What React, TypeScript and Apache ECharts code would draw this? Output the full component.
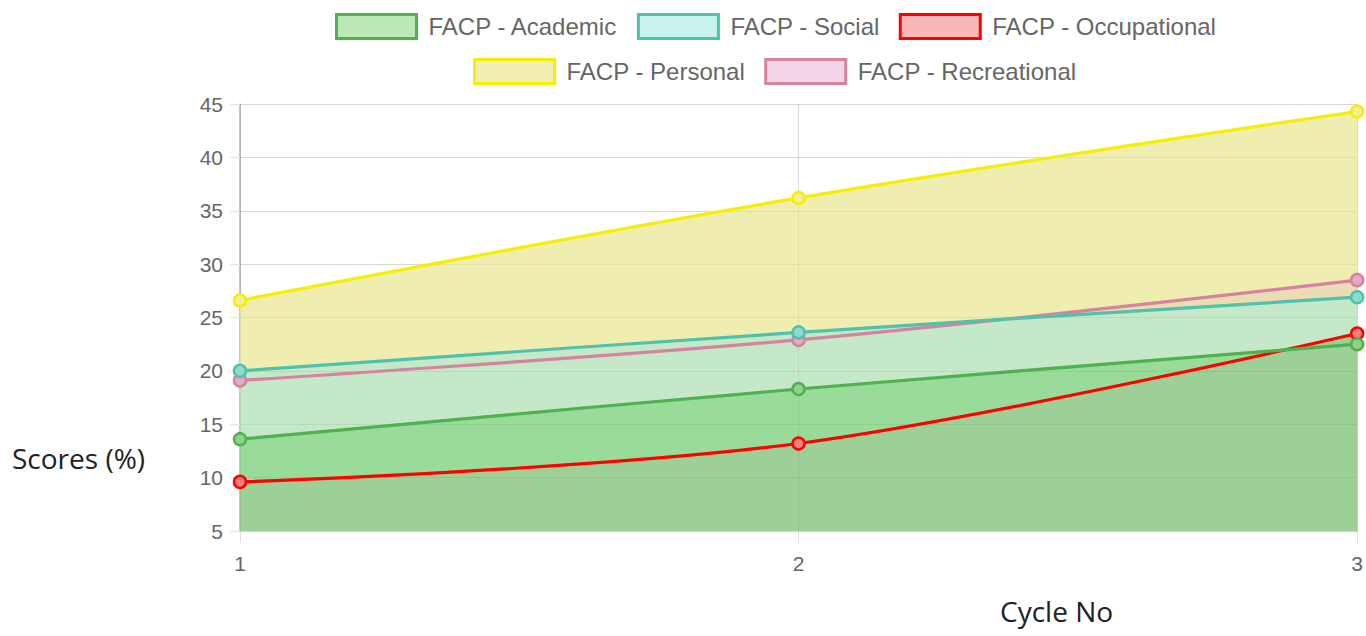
import React, { useEffect, useRef } from "react";
import * as echarts from "echarts";

const cycles = ["1", "2", "3"];
const academic = [13.6, 18.3, 22.5];
const social = [20.0, 23.6, 26.9];
const occupational = [9.6, 13.2, 23.5];
const personal = [26.6, 36.2, 44.3];
const recreational = [19.1, 22.9, 28.5];

const seriesDefs = [
  { name: "FACP - Academic", data: academic, line: "#4fb14f", area: "#99dc99", box: "#bde8b8", marker: "#8fd08a" },
  { name: "FACP - Social", data: social, line: "#4fc2ad", area: "#c4e8c8", box: "#c9f4ee", marker: "#8fdad0" },
  { name: "FACP - Occupational", data: occupational, line: "#ff0000", area: "#9cd096", box: "#f8b8b8", marker: "#f58080" },
  { name: "FACP - Personal", data: personal, line: "#f7ef00", area: "#efeeb0", box: "#f0eeb0", marker: "#f2ee9a" },
  { name: "FACP - Recreational", data: recreational, line: "#d4849f", area: "#ecdcb4", box: "#f4d4e8", marker: "#e6aac4" },
];

// area paint order (bottom to top)
const areaOrder = ["FACP - Personal", "FACP - Recreational", "FACP - Social", "FACP - Academic", "FACP - Occupational"];

const FONT = "Liberation Sans, Arial, sans-serif";

export default function App() {
  const ref = useRef<HTMLDivElement>(null);
  useEffect(() => {
    if (!ref.current) return;
    const chart = echarts.init(ref.current, undefined, { renderer: "svg" });
    const byName = (n: string) => seriesDefs.find((s) => s.name === n)!;
    const areaSeries = areaOrder.map((n) => {
      const s = byName(n);
      return {
        name: s.name,
        type: "line",
        data: s.data,
        smooth: 0.35,
        symbol: "none",
        lineStyle: { width: 0 },
        areaStyle: { color: s.area, opacity: 1, origin: "start" },
        z: 1,
        silent: true,
      };
    });
    const lineSeries = [...seriesDefs].reverse().map((s) => ({
      name: s.name,
      type: "line",
      data: s.data,
      smooth: 0.35,
      symbol: "circle",
      symbolSize: 12,
      showSymbol: true,
      lineStyle: { width: 3.2, color: s.line },
      itemStyle: { color: s.marker, borderColor: s.line, borderWidth: 2.5 },
      z: 5,
    }));
    const legendItem = (s: typeof seriesDefs[number]) => ({
      name: s.name,
      icon: "rect",
      itemStyle: { color: s.box, borderColor: s.line, borderWidth: 3 },
    });
    const legendCommon = {
      itemWidth: 80,
      itemHeight: 24,
      itemGap: 19,
      textStyle: { color: "#666", fontSize: 24, fontFamily: FONT, padding: [0, 0, 0, 7] },
      selectedMode: false,
    };
    chart.setOption({
      animation: false,
      backgroundColor: "#ffffff",
      legend: [
        { ...legendCommon, left: 330, top: 8, data: seriesDefs.slice(0, 3).map(legendItem) },
        { ...legendCommon, left: 468, top: 53, data: seriesDefs.slice(3).map(legendItem) },
      ],
      grid: { left: 240, right: 6, top: 104, bottom: 105 },
      xAxis: [
        {
          type: "category",
          data: cycles,
          boundaryGap: false,
          axisLine: { show: true, lineStyle: { color: "#dddddd", width: 1 } },
          axisTick: { show: true, length: 12, alignWithLabel: true, lineStyle: { color: "#dddddd" } },
          axisLabel: { color: "#666", fontSize: 21, fontFamily: FONT, margin: 22 },
          splitLine: { show: true, lineStyle: { color: "#e6e6e6", width: 1 } },
        },
        {
          type: "category",
          data: cycles,
          boundaryGap: false,
          position: "bottom",
          z: 3,
          axisLine: { show: false },
          axisTick: { show: false },
          axisLabel: { show: false },
          splitLine: { show: true, lineStyle: { color: "rgba(0,0,0,0.06)", width: 1 } },
        },
      ],
      yAxis: [
        {
          type: "value",
          min: 5,
          max: 45,
          interval: 5,
          axisLine: { show: true, lineStyle: { color: "#b5b5b5", width: 1.5 } },
          axisTick: { show: true, length: 10, lineStyle: { color: "#e6e6e6" } },
          axisLabel: { color: "#666", fontSize: 21, fontFamily: FONT, margin: 17 },
          splitLine: { show: true, lineStyle: { color: "#e6e6e6", width: 1 } },
        },
        {
          type: "value",
          min: 5,
          max: 45,
          interval: 5,
          z: 3,
          axisLine: { show: false },
          axisTick: { show: false },
          axisLabel: { show: false },
          splitLine: { show: true, lineStyle: { color: "rgba(0,0,0,0.06)", width: 1 } },
        },
      ],
      graphic: [
        { type: "text", left: 12, top: 444, style: { text: "Scores (%)", fill: "#222", font: "28px 'Open Sans', sans-serif" } },
        { type: "text", left: 1000, top: 597, style: { text: "Cycle No", fill: "#222", font: "28px 'Open Sans', sans-serif" } },
      ],
      series: [...areaSeries, ...lineSeries],
    });
    return () => chart.dispose();
  }, []);
  return <div ref={ref} style={{ position: "fixed", left: 0, top: 0, width: 1366, height: 636 }} />;
}
